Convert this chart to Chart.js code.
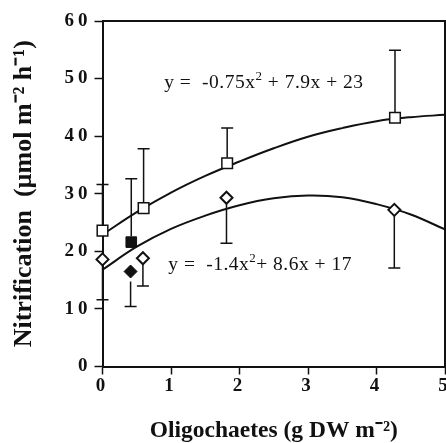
<!DOCTYPE html>
<html><head><meta charset="utf-8">
<script src="https://cdn.jsdelivr.net/npm/chart.js@4/dist/chart.umd.min.js"></script>
<style>html,body{margin:0;padding:0;background:#fff;overflow:hidden}</style>
</head><body>
<canvas id="c" width="446" height="443" style="display:block;width:446px;height:443px"></canvas>
<script>
// ---- data ----
const xTicks = [0, 1, 2, 3, 4, 5];
const yTicks = [0, 10, 20, 30, 40, 50, 60];

// open squares (upper series) with upward error bars
const sqX = [0, 0.6, 1.82, 4.27];
const sqY = [23.6, 27.5, 35.3, 43.2];
const sqErrTop = [31.6, 37.8, 41.4, 54.9];

// open diamonds (lower series) with downward error bars
const diX = [0, 0.59, 1.81, 4.26];
const diY = [18.6, 18.8, 29.3, 27.2];
const diErrBottom = [11.6, 14.0, 21.4, 17.1];

// filled square / filled diamond
const fsqX = [0.42];
const fsqY = [21.6];
const fsqErrTop = [32.6];
const fdiX = [0.41];
const fdiY = [16.5];
const fdiErrBottom = [10.4];

// fitted curves
const fitX = [0, 0.5, 1, 1.5, 2, 2.5, 3, 3.5, 4, 4.5, 5];
const upperFit = [22.9, 26.8, 30.2, 33.1, 35.6, 37.9, 39.9, 41.4, 42.6, 43.3, 43.7];
const lowerFit = [16.8, 20.8, 23.9, 26.2, 28.0, 29.2, 29.7, 29.4, 28.2, 26.4, 23.8];

const eqUpper = ['y =  -0.75x', '2', ' + 7.9x + 23'];
const eqLower = ['y =  -1.4x', '2', '+ 8.6x + 17'];

const xTitle = 'Oligochaetes (g DW m\u207B\u00B2)';
const yTitle = 'Nitrification  (\u00B5mol m\u207B\u00B2 h\u207B\u00B9)';

// ---- helpers ----
const pts = (xs, ys) => xs.map((x, i) => ({x, y: ys[i]}));
const SERIF = '"Liberation Serif", "Times New Roman", serif';
const INK = '#111';

const errorBars = [
  {xs: sqX, ys: sqY, ends: sqErrTop, r: 5.5},
  {xs: fsqX, ys: fsqY, ends: fsqErrTop, r: 5.5},
  {xs: diX, ys: diY, ends: diErrBottom, r: 6},
  {xs: fdiX, ys: fdiY, ends: fdiErrBottom, r: 10},
];

const errorPlugin = {
  id: 'errorBars',
  afterDatasetsDraw(chart) {
    const {ctx, scales: {x, y}} = chart;
    ctx.save();
    ctx.strokeStyle = INK;
    ctx.lineWidth = 1.5;
    errorBars.forEach(s => {
      s.xs.forEach((xv, i) => {
        const px = x.getPixelForValue(xv);
        const py = y.getPixelForValue(s.ys[i]);
        const pe = y.getPixelForValue(s.ends[i]);
        const dir = pe < py ? -1 : 1;
        ctx.beginPath();
        ctx.moveTo(px, py + dir * s.r);
        ctx.lineTo(px, pe);
        ctx.moveTo(px - 6, pe);
        ctx.lineTo(px + 6, pe);
        ctx.stroke();
      });
    });
    ctx.restore();
  }
};

const framePlugin = {
  id: 'frame',
  afterDraw(chart) {
    const {ctx, chartArea: a} = chart;
    ctx.save();
    ctx.strokeStyle = INK;
    ctx.lineWidth = 2;
    ctx.beginPath();
    ctx.moveTo(a.left, a.top);
    ctx.lineTo(a.right, a.top);
    ctx.lineTo(a.right, a.bottom);
    ctx.stroke();
    ctx.restore();
  }
};

function drawEq(ctx, parts, x0, yMid) {
  ctx.letterSpacing = '0.5px';
  ctx.font = '19.5px ' + SERIF;
  ctx.textBaseline = 'middle';
  ctx.textAlign = 'left';
  ctx.fillStyle = INK;
  let x = x0;
  ctx.fillText(parts[0], x, yMid);
  x += ctx.measureText(parts[0]).width;
  ctx.font = '13px ' + SERIF;
  ctx.fillText(parts[1], x, yMid - 6);
  x += ctx.measureText(parts[1]).width;
  ctx.font = '19.5px ' + SERIF;
  ctx.fillText(parts[2], x, yMid);
  ctx.letterSpacing = '0px';
}

const eqPlugin = {
  id: 'equations',
  afterDraw(chart) {
    const {ctx, scales: {x, y}} = chart;
    ctx.save();
    drawEq(ctx, eqUpper, x.getPixelForValue(0.9), y.getPixelForValue(49.3));
    drawEq(ctx, eqLower, x.getPixelForValue(0.96), y.getPixelForValue(17.65));
    ctx.restore();
  }
};

function spaceLabels(s, spacing) {
  if (s._spaced) return;
  s._spaced = true;
  const orig = s.drawLabels;
  s.drawLabels = function (area) {
    const prev = this.ctx.letterSpacing;
    this.ctx.letterSpacing = spacing;
    orig.call(this, area);
    this.ctx.letterSpacing = prev || '0px';
  };
}

function noOverflow(s) {
  s.paddingLeft = 0; s.paddingRight = 0; s.paddingTop = 0; s.paddingBottom = 0;
}

const tickFont = {family: SERIF, size: 19, weight: 'bold'};

new Chart(document.getElementById('c'), {
  type: 'scatter',
  data: {
    datasets: [
      {data: pts(sqX, sqY), pointStyle: 'rect', pointRadius: 7.5, pointBorderWidth: 1.5,
       borderColor: INK, backgroundColor: '#fff', showLine: false, clip: false},
      {data: pts(diX, diY), pointStyle: 'rectRot', pointRadius: 6, pointBorderWidth: 2,
       borderColor: INK, backgroundColor: '#fff', showLine: false, clip: false},
      {data: pts(fsqX, fsqY), pointStyle: 'rect', pointRadius: 7.5, pointBorderWidth: 1,
       borderColor: INK, backgroundColor: INK, showLine: false, clip: false},
      {data: pts(fdiX, fdiY), pointStyle: 'rectRot', pointRadius: 6.5, pointBorderWidth: 1,
       borderColor: INK, backgroundColor: INK, showLine: false, clip: false},
      {data: pts(fitX, upperFit), showLine: true, pointRadius: 0, borderColor: INK,
       borderWidth: 2, tension: 0.4, fill: false},
      {data: pts(fitX, lowerFit), showLine: true, pointRadius: 0, borderColor: INK,
       borderWidth: 2, tension: 0.4, fill: false},
    ]
  },
  options: {
    responsive: false,
    devicePixelRatio: 1,
    animation: false,
    events: [],
    layout: {autoPadding: false, padding: {top: 21, right: 1, left: 0, bottom: 0}},
    plugins: {legend: {display: false}, tooltip: {enabled: false}},
    scales: {
      x: {
        type: 'linear', min: 0, max: 5,
        afterBuildTicks: s => { s.ticks = xTicks.map(v => ({value: v})); },
        afterFit: s => { s.height = 76.5; noOverflow(s); spaceLabels(s, '4px'); },
        ticks: {font: tickFont, color: INK, padding: 0, maxRotation: 0, autoSkip: false},
        grid: {display: true, drawOnChartArea: false, drawTicks: true, tickLength: 8,
               tickColor: INK, tickWidth: 1.5},
        border: {display: true, color: INK, width: 2},
        title: {display: true, text: xTitle, color: INK, padding: {top: 0, bottom: 0},
                font: {family: SERIF, size: 23.5, weight: 'bold', lineHeight: 1}}
      },
      y: {
        type: 'linear', min: 0, max: 60,
        afterBuildTicks: s => { s.ticks = yTicks.map(v => ({value: v})); },
        afterFit: s => { s.width = 102.5; noOverflow(s); spaceLabels(s, '4px'); },
        ticks: {font: tickFont, color: INK, padding: 3, autoSkip: false},
        grid: {display: true, drawOnChartArea: false, drawTicks: true, tickLength: 8,
               tickColor: INK, tickWidth: 1.5},
        border: {display: true, color: INK, width: 2},
        title: {display: true, text: yTitle, color: INK, padding: {top: 11, bottom: 0},
                font: {family: SERIF, size: 26, weight: 'bold', lineHeight: 1}}
      }
    }
  },
  plugins: [errorPlugin, framePlugin, eqPlugin]
});
</script>
</body></html>
